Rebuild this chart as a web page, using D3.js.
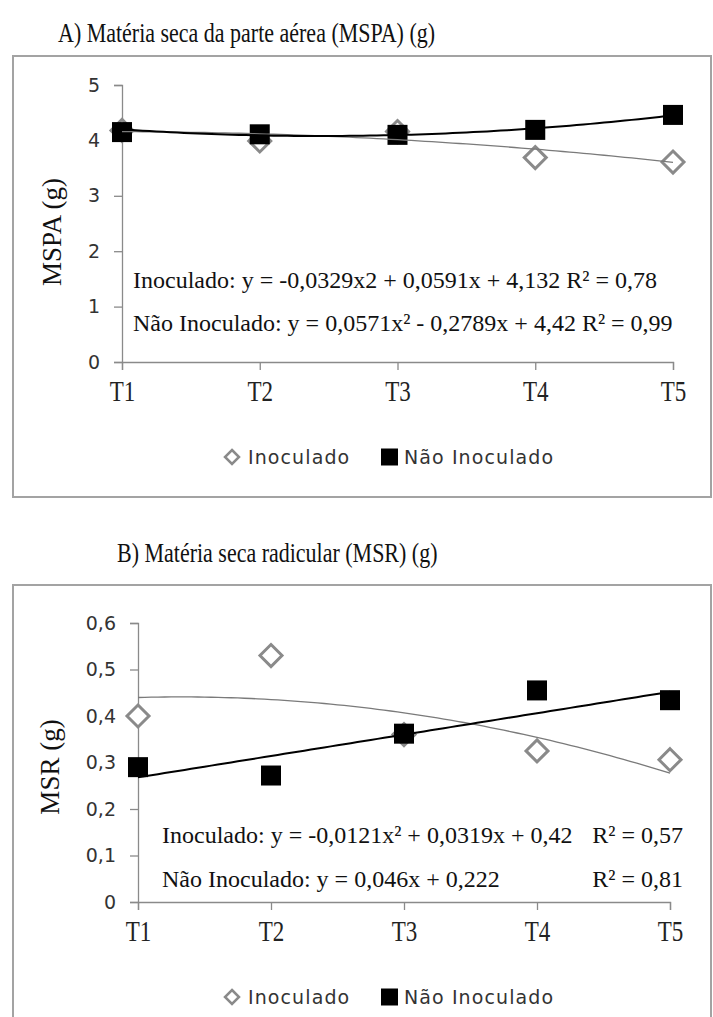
<!DOCTYPE html>
<html>
<head>
<meta charset="utf-8">
<script src="https://cdn.jsdelivr.net/npm/d3@7"></script>
<style>
  html, body { margin: 0; padding: 0; background: #fff; }
  svg { display: block; }
</style>
</head>
<body>
<svg id="chart" width="713" height="1017"></svg>
<script>
// ---------- DATA ----------
const categories = ["T1", "T2", "T3", "T4", "T5"];
const seriesNames = ["Inoculado", "Não Inoculado"];

// Panel A: Matéria seca da parte aérea (g)
const mspaInoculado    = [4.18, 3.99, 4.16, 3.69, 3.61];
const mspaNaoInoculado = [4.15, 4.11, 4.10, 4.19, 4.46];
const mspaTicks = [0, 1, 2, 3, 4, 5];
const mspaTickLabels = ["0", "1", "2", "3", "4", "5"];
// trendline coefficients [c2, c1, c0] as printed on the chart
const mspaCoefInoculado    = [-0.0329, 0.0591, 4.132];
const mspaCoefNaoInoculado = [0.0571, -0.2789, 4.42];

// Panel B: Matéria seca radicular (g)
const msrInoculado    = [0.40, 0.53, 0.36, 0.325, 0.306];
const msrNaoInoculado = [0.29, 0.272, 0.362, 0.455, 0.434];
const msrTicks = [0, 0.1, 0.2, 0.3, 0.4, 0.5, 0.6];
const msrTickLabels = ["0", "0,1", "0,2", "0,3", "0,4", "0,5", "0,6"];
const msrCoefInoculado    = [-0.0121, 0.0319, 0.42];
const msrCoefNaoInoculado = [0, 0.046, 0.222];

const titles = ["A) Matéria seca da parte aérea (MSPA) (g)", "B) Matéria seca radicular (MSR) (g)"];
const yTitles = ["MSPA (g)", "MSR (g)"];

// ---------- DRAWING ----------
const SERIF = "'Liberation Serif', 'Times New Roman', serif";
const SANS = "'DejaVu Sans', Verdana, sans-serif";
const GRAY = "#8a8a8a";
const svg = d3.select("#chart");

function drawPanel(p) {
  const g = svg.append("g");

  // title (slightly tall, narrow rendering as in the source)
  g.append("text").attr("transform", `translate(${p.titleX},${p.titleY}) scale(1,1.2)`)
    .attr("font-family", SERIF).attr("font-size", 22).attr("fill", "#111")
    .text(p.title);

  // frame
  g.append("rect").attr("x", 13).attr("y", p.frameTop)
    .attr("width", 698).attr("height", p.frameH)
    .attr("fill", "none").attr("stroke", "#a3a3a3").attr("stroke-width", 2);

  const x = d3.scalePoint().domain(categories).range([p.x0, p.x1]).padding(0);
  const xNum = d3.scaleLinear().domain([1, categories.length]).range([p.x0, p.x1]);
  const y = d3.scaleLinear().domain([0, p.yMax]).range([p.yBottom, p.yTop]);

  // y axis
  const yAxis = d3.axisLeft(y).tickValues(p.ticks)
    .tickFormat((d, i) => p.tickLabels[i]).tickSize(8).tickPadding(14);
  const ya = g.append("g").attr("transform", `translate(${p.x0},0)`).call(yAxis);
  ya.select(".domain").attr("stroke", GRAY).attr("stroke-width", 1.3);
  ya.selectAll(".tick line").attr("stroke", GRAY).attr("stroke-width", 1.3);
  ya.selectAll(".tick text").attr("font-family", SANS).attr("font-size", 19).attr("fill", "#333");

  // x axis
  const xAxis = d3.axisBottom(x).tickSize(8).tickPadding(9);
  const xa = g.append("g").attr("transform", `translate(0,${p.yBottom})`).call(xAxis);
  xa.select(".domain").attr("stroke", GRAY).attr("stroke-width", 1.3);
  xa.selectAll(".tick line").attr("stroke", GRAY).attr("stroke-width", 1.3);
  xa.selectAll(".tick text").attr("font-family", SERIF).attr("font-size", 23).attr("fill", "#222")
    .attr("transform", "translate(0,-4) scale(1,1.28)");

  // y title
  g.append("text")
    .attr("transform", `translate(${p.yTitleX},${p.yTitleY}) rotate(-90)`)
    .attr("text-anchor", "middle").attr("dominant-baseline", "central")
    .attr("font-family", SERIF).attr("font-size", 27).attr("fill", "#111")
    .text(p.yTitle);

  // markers: diamonds (Inoculado)
  const dSize = 11;
  g.selectAll(".dia").data(p.inoc).join("path")
    .attr("d", (d, i) => {
      const cx = x(categories[i]), cy = y(d);
      return `M${cx},${cy - dSize}L${cx + dSize},${cy}L${cx},${cy + dSize}L${cx - dSize},${cy}Z`;
    })
    .attr("fill", "#fff").attr("stroke", GRAY).attr("stroke-width", 3);

  // squares (Não Inoculado)
  const sq = 20;
  g.selectAll(".sq").data(p.nao).join("rect")
    .attr("x", (d, i) => x(categories[i]) - sq / 2)
    .attr("y", d => y(d) - sq / 2)
    .attr("width", sq).attr("height", sq).attr("fill", "#000");

  // trendlines
  const samples = d3.range(1, categories.length + 0.001, 0.05);
  const poly = c => t => c[0] * t * t + c[1] * t + c[2];
  const line = d3.line().x(t => xNum(t));
  const fInoc = poly(p.coefInoc), fNao = poly(p.coefNao);
  g.append("path").attr("d", line.y(t => y(fInoc(t)))(samples))
    .attr("fill", "none").attr("stroke", "#7a7a7a").attr("stroke-width", 1.3);
  g.append("path").attr("d", line.y(t => y(fNao(t)))(samples))
    .attr("fill", "none").attr("stroke", "#000").attr("stroke-width", 2);

  // equations
  p.equations.forEach(e => {
    g.append("text").attr("x", e.x).attr("y", e.y)
      .attr("text-anchor", e.anchor || "start")
      .attr("font-family", SERIF).attr("font-size", 24).attr("fill", "#111")
      .text(e.text);
  });

  // legend
  const ly = p.legendY;
  const lg = g.append("g");
  const ld = 7;
  lg.append("path")
    .attr("d", `M232,${ly - ld}L${232 + ld},${ly}L232,${ly + ld}L${232 - ld},${ly}Z`)
    .attr("fill", "#fff").attr("stroke", GRAY).attr("stroke-width", 2.5);
  lg.append("text").attr("x", 248).attr("y", ly).attr("dominant-baseline", "central")
    .attr("font-family", SANS).attr("font-size", 19).attr("letter-spacing", 1.1).attr("fill", "#333")
    .text(seriesNames[0]);
  lg.append("rect").attr("x", 381).attr("y", ly - 8.5).attr("width", 17).attr("height", 17).attr("fill", "#000");
  lg.append("text").attr("x", 404).attr("y", ly).attr("dominant-baseline", "central")
    .attr("font-family", SANS).attr("font-size", 19).attr("letter-spacing", 1.1).attr("fill", "#333")
    .text(seriesNames[1]);
}

drawPanel({
  title: titles[0], titleX: 58, titleY: 42,
  frameTop: 56, frameH: 441,
  x0: 122, x1: 673, yTop: 85, yBottom: 362, yMax: 5,
  ticks: mspaTicks, tickLabels: mspaTickLabels,
  yTitle: yTitles[0], yTitleX: 52, yTitleY: 232,
  inoc: mspaInoculado, nao: mspaNaoInoculado,
  coefInoc: mspaCoefInoculado, coefNao: mspaCoefNaoInoculado,
  equations: [
    { x: 133, y: 288, text: "Inoculado: y = -0,0329x2 + 0,0591x + 4,132  R² = 0,78" },
    { x: 133, y: 331, text: "Não Inoculado: y = 0,0571x² - 0,2789x + 4,42 R² = 0,99" }
  ],
  legendY: 457
});

drawPanel({
  title: titles[1], titleX: 117, titleY: 562,
  frameTop: 585, frameH: 460,
  x0: 138, x1: 670, yTop: 623, yBottom: 902, yMax: 0.6,
  ticks: msrTicks, tickLabels: msrTickLabels,
  yTitle: yTitles[1], yTitleX: 50, yTitleY: 767,
  inoc: msrInoculado, nao: msrNaoInoculado,
  coefInoc: msrCoefInoculado, coefNao: msrCoefNaoInoculado,
  equations: [
    { x: 162, y: 843, text: "Inoculado: y = -0,0121x² + 0,0319x + 0,42" },
    { x: 683, y: 843, text: "R² = 0,57", anchor: "end" },
    { x: 162, y: 887, text: "Não Inoculado: y = 0,046x + 0,222" },
    { x: 683, y: 887, text: "R² = 0,81", anchor: "end" }
  ],
  legendY: 997
});
</script>
</body>
</html>
